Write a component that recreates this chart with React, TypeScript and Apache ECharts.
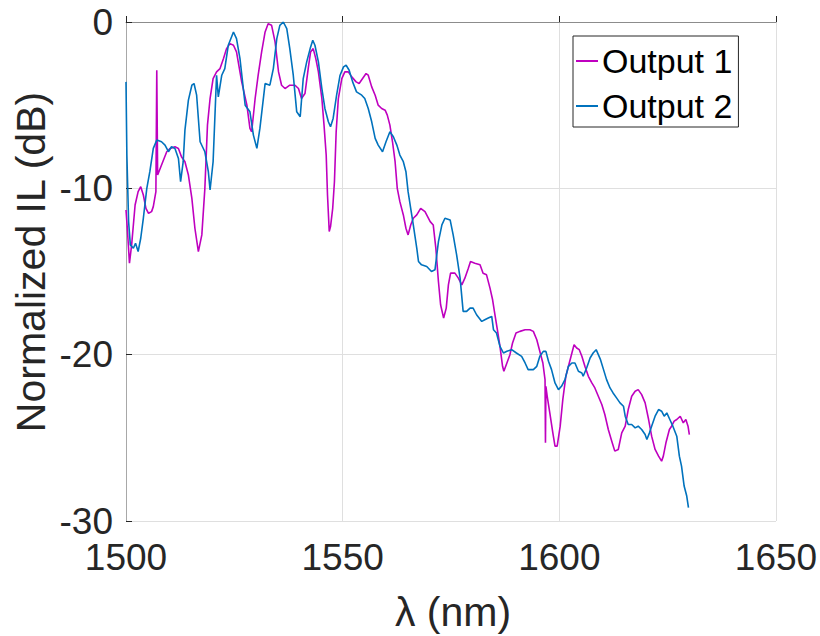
import React, { useEffect, useRef } from "react";
import * as echarts from "echarts";

const xTicks = [1500, 1550, 1600, 1650];
const yTicks = [0, -10, -20, -30];

const wl1 = [
  1500.0, 1500.3, 1500.8, 1501.3, 1502.1, 1502.8, 1503.4, 1504.0, 1504.6, 1505.2, 1505.9, 1506.3, 1506.9, 1507.1, 1507.3,
  1508.2, 1509.4, 1510.2, 1511.3, 1512.1, 1512.8, 1513.6, 1514.4, 1515.2, 1515.9, 1516.7, 1517.5, 1518.2, 1518.8, 1519.4,
  1520.1, 1520.9, 1521.7, 1522.5, 1523.2, 1524.0, 1524.8, 1525.5, 1526.7, 1527.9, 1528.6, 1529.0, 1529.8, 1530.5, 1531.3,
  1532.1, 1532.8, 1533.6, 1534.4, 1535.2, 1535.9, 1536.7, 1537.8, 1539.0, 1539.8, 1540.5, 1541.3, 1542.1, 1542.6, 1543.2,
  1543.8, 1544.4, 1545.2, 1545.7, 1546.2, 1546.5, 1546.9, 1547.2, 1547.7, 1548.1, 1548.5, 1549.0, 1549.8, 1550.5, 1551.3,
  1552.1, 1553.1, 1553.8, 1554.6, 1555.4, 1555.9, 1556.7, 1557.5, 1558.2, 1559.0, 1559.8, 1560.3, 1560.9, 1561.5, 1562.1,
  1562.6, 1563.2, 1564.0, 1564.6, 1565.1, 1565.7, 1566.3, 1567.1, 1568.0, 1569.0, 1570.2, 1570.9, 1571.5, 1572.1, 1572.6,
  1573.3, 1573.9, 1574.4, 1574.9, 1575.9, 1576.7, 1577.5, 1578.2, 1579.0, 1579.5, 1580.5, 1581.7, 1582.4, 1583.2, 1584.0,
  1584.6, 1585.2, 1585.7, 1586.3, 1586.9, 1587.2, 1587.9, 1588.6, 1589.2, 1590.0, 1590.9, 1592.1, 1593.2, 1594.0, 1594.8,
  1595.4, 1596.2, 1596.7, 1596.8, 1596.9, 1597.2, 1597.8, 1598.5, 1599.0, 1599.5, 1600.2, 1600.8, 1601.5, 1602.3, 1602.9,
  1603.4, 1604.0, 1604.6, 1605.2, 1605.9, 1606.7, 1607.5, 1608.2, 1609.0, 1609.8, 1610.5, 1611.3, 1612.1, 1612.8, 1613.6,
  1614.4, 1615.2, 1615.9, 1616.7, 1617.5, 1618.2, 1619.0, 1619.8, 1620.6, 1621.3, 1622.1, 1622.9, 1623.6, 1624.0, 1624.6,
  1625.4, 1625.9, 1626.5, 1627.1, 1627.9, 1628.6, 1629.2, 1629.7, 1630.0,
];
const il1 = [
  -11.3, -12.4, -14.5, -13.4, -11.0, -10.2, -9.9, -10.4, -11.2, -11.5, -11.4, -11.1, -10.2, -2.9, -9.2,
  -8.6, -7.8, -7.6, -7.5, -7.6, -8.1, -8.4, -9.2, -10.6, -12.4, -13.8, -12.8, -10.0, -6.2, -4.6,
  -3.4, -3.0, -2.8, -2.2, -1.6, -1.3, -1.4, -1.8, -3.6, -5.0, -6.4, -6.6, -4.6, -3.2, -1.8,
  -0.6, -0.1, -0.2, -1.2, -3.0, -3.8, -4.0, -3.8, -3.8, -4.0, -4.6, -4.3, -2.7, -1.8, -1.6,
  -2.2, -3.0, -4.6, -6.2, -8.0, -10.4, -12.6, -12.3, -11.2, -9.6, -6.6, -4.6, -3.4, -3.0, -3.0,
  -3.3, -3.6, -3.7, -3.4, -3.1, -3.2, -3.9, -4.4, -5.0, -5.2, -5.3, -5.6, -6.2, -7.2, -8.4,
  -10.0, -10.8, -11.6, -12.4, -12.8, -12.2, -11.8, -11.6, -11.2, -11.4, -12.0, -12.2, -13.6, -15.6, -17.0,
  -17.8, -17.2, -15.8, -15.1, -15.1, -15.4, -15.8, -15.4, -14.8, -14.4, -14.5, -14.6, -15.1, -15.2, -16.0,
  -16.7, -17.7, -18.5, -19.5, -20.7, -21.0, -20.5, -20.0, -19.3, -18.7, -18.6, -18.5, -18.5, -18.6, -19.1,
  -19.7, -20.5, -21.5, -25.3, -21.9, -22.5, -23.5, -24.7, -25.5, -25.5, -24.3, -22.7, -21.3, -20.5, -19.9,
  -19.4, -19.6, -19.7, -20.1, -20.7, -21.3, -21.7, -22.0, -22.5, -23.0, -23.6, -24.5, -25.2, -25.8, -25.7,
  -24.7, -24.3, -23.3, -22.5, -22.2, -22.1, -22.4, -22.9, -23.9, -24.9, -25.7, -26.1, -26.4, -26.1, -25.3,
  -24.5, -24.3, -24.0, -23.9, -23.7, -24.1, -23.9, -24.3, -24.8,
];

const wl2 = [
  1500.0, 1500.2, 1500.6, 1501.0, 1501.7, 1502.2, 1502.8, 1503.4, 1504.0, 1504.8, 1505.5, 1506.3, 1507.1, 1508.2, 1509.0,
  1509.8, 1510.5, 1511.3, 1512.1, 1512.6, 1513.2, 1513.6, 1514.4, 1515.2, 1515.7, 1516.3, 1517.1, 1518.2, 1519.0, 1519.4,
  1520.1, 1520.9, 1521.3, 1522.1, 1522.8, 1523.6, 1524.8, 1525.5, 1526.3, 1527.5, 1528.6, 1529.4, 1530.2, 1530.9, 1532.1,
  1533.2, 1534.0, 1534.8, 1535.5, 1536.3, 1537.1, 1537.8, 1538.6, 1539.4, 1540.2, 1540.9, 1541.7, 1542.5, 1543.1, 1543.6,
  1544.4, 1545.2, 1545.9, 1546.7, 1547.2, 1547.8, 1548.6, 1549.4, 1550.2, 1550.8, 1551.5, 1552.3, 1553.2, 1554.4, 1555.1,
  1555.9, 1556.7, 1557.5, 1558.2, 1559.2, 1560.0, 1560.9, 1561.7, 1562.5, 1563.2, 1564.0, 1564.6, 1565.1, 1565.7, 1566.3,
  1567.1, 1567.5, 1568.2, 1569.4, 1570.5, 1571.3, 1572.1, 1572.9, 1573.6, 1574.8, 1575.5, 1576.3, 1577.1, 1577.8, 1578.6,
  1579.4, 1580.1, 1580.9, 1582.1, 1582.8, 1583.6, 1584.4, 1584.8, 1585.5, 1586.3, 1587.1, 1587.9, 1589.0, 1590.1, 1591.3,
  1592.1, 1592.8, 1594.0, 1594.8, 1595.5, 1596.3, 1596.9, 1597.5, 1598.2, 1599.0, 1599.8, 1600.5, 1601.3, 1602.1, 1602.9,
  1603.6, 1604.4, 1605.2, 1605.5, 1606.3, 1607.1, 1607.8, 1608.5, 1609.0, 1609.5, 1610.2, 1610.9, 1611.7, 1612.4, 1613.2,
  1614.0, 1614.8, 1615.2, 1615.9, 1616.7, 1617.5, 1618.2, 1619.0, 1619.8, 1620.2, 1620.8, 1621.3, 1622.1, 1622.9, 1623.6,
  1624.2, 1624.8, 1625.5, 1626.2, 1627.1, 1627.7, 1628.2, 1628.8, 1629.4, 1629.8,
];
const il2 = [
  -3.6, -8.0, -12.0, -13.4, -13.6, -13.3, -13.8, -13.0, -11.8, -10.0, -9.0, -7.6, -7.1, -7.2, -7.4,
  -7.8, -7.5, -7.6, -8.2, -9.6, -8.4, -6.5, -4.7, -3.8, -3.7, -4.4, -7.2, -7.8, -9.0, -10.1,
  -8.4, -3.2, -4.5, -3.2, -2.8, -1.4, -0.6, -1.0, -2.2, -5.0, -5.4, -6.8, -7.6, -6.4, -3.7,
  -3.8, -2.8, -1.0, -0.2, 0.0, -0.4, -1.6, -3.2, -5.4, -5.7, -3.4, -2.4, -1.6, -1.1, -1.4,
  -2.4, -4.0, -5.2, -6.0, -6.3, -5.8, -4.4, -3.2, -2.7, -2.6, -2.9, -3.6, -4.2, -4.4, -4.6,
  -5.2, -6.0, -7.0, -7.4, -7.8, -7.2, -6.6, -6.9, -7.4, -8.0, -8.4, -9.0, -10.2, -11.2, -12.2,
  -13.6, -14.4, -14.6, -14.7, -15.0, -14.9, -13.2, -12.2, -11.8, -11.9, -12.8, -14.0, -15.4, -17.4, -17.4,
  -17.2, -17.2, -17.6, -18.0, -17.9, -17.8, -17.7, -18.5, -18.7, -19.5, -19.9, -19.8, -19.7, -19.9, -20.1,
  -20.5, -20.9, -20.9, -20.7, -20.1, -19.8, -19.8, -20.4, -20.9, -21.7, -22.1, -21.9, -21.5, -20.7, -20.5,
  -20.5, -21.0, -21.1, -21.3, -20.8, -20.2, -19.9, -19.7, -20.0, -20.3, -20.9, -21.5, -22.0, -22.3, -22.6,
  -22.9, -23.1, -23.7, -24.2, -24.2, -24.4, -24.3, -24.5, -24.8, -25.1, -24.7, -24.3, -23.7, -23.3, -23.4,
  -23.7, -23.5, -23.9, -24.3, -24.9, -26.1, -26.7, -27.9, -28.5, -29.2,
];

const seriesNames = ["Output 1", "Output 2"];
const FONT = "'Liberation Sans', Arial, Helvetica, sans-serif";

export default function App() {
  const ref = useRef<HTMLDivElement>(null);
  useEffect(() => {
    document.body.style.margin = "0";
    if (!ref.current) return;
    const chart = echarts.init(ref.current, undefined, { renderer: "svg" });
    const d1 = wl1.map((x, i) => [x, il1[i]]);
    const d2 = wl2.map((x, i) => [x, il2[i]]);
    chart.setOption({
      animation: false,
      backgroundColor: "#ffffff",
      textStyle: { fontFamily: FONT },
      grid: { left: 126, top: 22, width: 650, height: 499, outerBoundsMode: "none", containLabel: false },
      legend: {
        orient: "vertical",
        left: 573,
        top: 36,
        data: seriesNames,
        icon: "rect",
        itemWidth: 22,
        itemHeight: 2,
        itemGap: 11,
        padding: [8, 6, 4, 3],
        borderColor: "#262626",
        borderWidth: 1,
        backgroundColor: "#ffffff",
        textStyle: { fontSize: 34, color: "#000000", fontFamily: FONT, padding: [0, 0, 0, -1] },
      },
      xAxis: {
        type: "value",
        min: xTicks[0],
        max: xTicks[xTicks.length - 1],
        interval: 50,
        axisLine: { show: true, lineStyle: { color: "#8c8c8c", width: 1 } },
        axisTick: { show: true, inside: true, length: 6, lineStyle: { color: "#262626" } },
        axisLabel: {
          fontSize: 37,
          color: "#262626",
          margin: 18,
          fontFamily: FONT,
          formatter: (v: number) => String(v),
        },
        splitLine: { show: true, lineStyle: { color: "#dfdfdf", width: 1 } },
      },
      yAxis: {
        type: "value",
        min: yTicks[yTicks.length - 1],
        max: yTicks[0],
        interval: 10,
        axisLine: { show: true, lineStyle: { color: "#a8a8a8", width: 1 } },
        axisTick: { show: true, inside: true, length: 6, lineStyle: { color: "#262626" } },
        axisLabel: {
          fontSize: 37,
          color: "#262626",
          margin: 13,
          fontFamily: FONT,
          formatter: (v: number) => String(v),
        },
        splitLine: { show: true, lineStyle: { color: "#dfdfdf", width: 1 } },
      },
      graphic: [
        {
          type: "text",
          x: 31,
          y: 262,
          rotation: Math.PI / 2,
          style: {
            text: "Normalized IL (dB)",
            fontSize: 41,
            fill: "#262626",
            fontFamily: FONT,
            align: "center",
            verticalAlign: "middle",
          },
        },
        {
          type: "text",
          x: 453,
          y: 612,
          style: {
            text: "λ (nm)",
            fontSize: 41,
            fill: "#262626",
            fontFamily: FONT,
            align: "center",
            verticalAlign: "middle",
          },
        },
      ],
      series: [
        {
          name: seriesNames[0],
          type: "line",
          data: d1,
          showSymbol: false,
          symbol: "none",
          color: "#bf00bf",
          lineStyle: { color: "#bf00bf", width: 1.6 },
        },
        {
          name: seriesNames[1],
          type: "line",
          data: d2,
          showSymbol: false,
          symbol: "none",
          color: "#0072bd",
          lineStyle: { color: "#0072bd", width: 1.6 },
        },
      ],
    });
    return () => chart.dispose();
  }, []);
  return <div ref={ref} style={{ width: 820, height: 636 }} />;
}
